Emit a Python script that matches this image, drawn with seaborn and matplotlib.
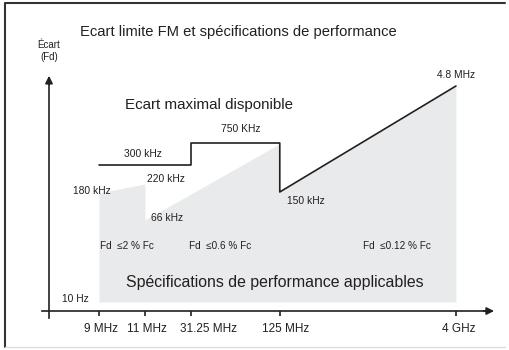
import matplotlib
matplotlib.use("Agg")
import matplotlib.pyplot as plt
import matplotlib.transforms as mtransforms
import seaborn as sns
import pandas as pd

# --- Data (schematic positions) ---
freq_labels = ["9 MHz", "11 MHz", "31.25 MHz", "125 MHz", "4 GHz"]
freq_pos = [0, 1, 2, 3.93, 7.76]

# maximum available deviation (black step line), schematic height above 10 Hz
max_x = [0, 2, 2, 3.93, 3.93, 7.76]
max_y = [137, 137, 159, 159, 110, 216]

# applicable performance specification (grey area)
spec_x = [0, 1, 1, 3.88, 3.93, 3.93, 7.76]
spec_y = [109, 118, 82, 157, 157, 110, 216]
spec_floor = 0

# value labels: text, x, y
value_labels = ["300 kHz", "750 KHz", "220 kHz", "180 kHz", "66 kHz", "150 kHz", "4.8 MHz", "10 Hz"]
value_x = [0.96, 3.09, 1.46, -0.15, 1.48, 4.50, 7.76, -0.52]
value_y = [148, 173, 123, 111, 84, 101, 227, 3]

spec_rules = ["Fd  \u22642 % Fc", "Fd  \u22640.6 % Fc", "Fd  \u22640.12 % Fc"]
rule_x = [0.02, 1.95, 5.74]

TXT = "#231f20"
GREY = "#e9eaeb"

sns.set_theme(style="white")
plt.rcParams["font.family"] = ["Liberation Sans", "DejaVu Sans"]

fig = plt.figure(figsize=(5.09, 3.5), dpi=100)
ax = fig.add_axes([0, 0, 1, 1])
ax.set_xlim(-99 / 46, 410 / 46)
ax.set_ylim(-48, 302)

# grey specification area
ax.fill_between(spec_x, spec_floor, spec_y, color=GREY, lw=0, zorder=1)

# black line
line_df = pd.DataFrame({"x": max_x, "y": max_y})
sns.lineplot(data=line_df, x="x", y="y", sort=False, estimator=None,
             color=TXT, lw=1.2, ax=ax, zorder=3)

# axes as arrows
for s in ["top", "right"]:
    ax.spines[s].set_visible(False)
ax.spines["bottom"].set_position(("data", -9))
ax.spines["bottom"].set_bounds(-1.24, 8.5)
ax.spines["left"].set_position(("data", -1.087))
ax.spines["left"].set_bounds(-16, 220)
for s in ["bottom", "left"]:
    ax.spines[s].set_color(TXT)
    ax.spines[s].set_linewidth(1.2)
ax.annotate("", xy=(8.65, -9), xytext=(8.3, -9),
            arrowprops=dict(arrowstyle="-|>", color=TXT, lw=1.2, mutation_scale=11))
ax.annotate("", xy=(-1.087, 229), xytext=(-1.087, 215),
            arrowprops=dict(arrowstyle="-|>", color=TXT, lw=1.2, mutation_scale=11))

ax.set_xticks(freq_pos)
ax.set_xticklabels(freq_labels, fontsize=8.5, color=TXT)
ax.set_yticks([])
ax.tick_params(axis="x", direction="out", length=3.5, width=1.2, color=TXT, pad=5.5,
               bottom=True)
ax.set_xlabel("")
ax.set_ylabel("")

# labels sit slightly to the right of their ticks in the original
shifts = [2, 2, 18, 6, 3]
for lab, dx in zip(ax.get_xticklabels(), shifts):
    lab.set_transform(lab.get_transform() +
                      mtransforms.ScaledTranslation(dx / 100, 0, fig.dpi_scale_trans))

# texts
ax.text(-0.41, 270, "Ecart limite FM et sp\u00e9cifications de performance",
        fontsize=10.6, color=TXT, va="center", ha="left")
ax.text(-1.09, 251, "\u00c9cart\n(Fd)", fontsize=7, color=TXT, va="center", ha="center",
        linespacing=1.2)
ax.text(0.57, 197, "Ecart maximal disponible", fontsize=10.9, color=TXT,
        va="center", ha="left")
ax.text(0.59, 20, "Sp\u00e9cifications de performance applicables", fontsize=11.4,
        color=TXT, va="center", ha="left")

for t, x, y in zip(value_labels, value_x, value_y):
    ax.text(x, y, t, fontsize=7.4, color=TXT, va="center", ha="center")

for t, x in zip(spec_rules, rule_x):
    ax.text(x, 56, t, fontsize=7.2, color=TXT, va="center", ha="left")

# frame around the figure
ax.plot([5 / 509, 5 / 509, 505 / 509], [3 / 350, 347 / 350, 347 / 350],
        transform=fig.transFigure, color="#333333", lw=1.5, clip_on=False)
ax.plot([5 / 509, 505 / 509], [3 / 350, 3 / 350], transform=fig.transFigure,
        color="#dddddd", lw=1.0, clip_on=False)

fig.savefig("out.png", dpi=100)
